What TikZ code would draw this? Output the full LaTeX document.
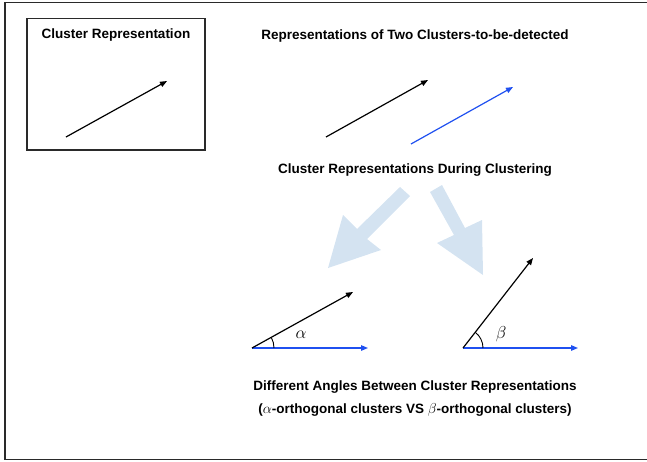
\documentclass[tikz,border=0pt]{standalone}
\usepackage{fontspec}
\setmainfont{Liberation Sans}
\usetikzlibrary{arrows.meta}
\definecolor{vblue}{HTML}{1F50F0}
\definecolor{pale}{HTML}{D4E3F1}
\definecolor{frame}{HTML}{2A2A2A}
\tikzset{
  lbl/.style={font=\bfseries\fontsize{13.5}{16}\selectfont, inner sep=0pt, anchor=center},
  vec/.style={line width=1.2pt, -{Triangle[length=7pt,width=5.5pt]}},
  bvec/.style={vec, draw=vblue},
  bigarrow/.style={fill=pale, draw=none},
  anglearc/.style={line width=0.9pt},
  greek/.style={font=\fontsize{18}{18}\selectfont, inner sep=0pt}
}
\begin{document}
\begin{tikzpicture}[x=1pt,y=-1pt]
\useasboundingbox (0,0) rectangle (647,461);
% outer frame (open on the right)
\draw[frame, line width=1.8pt] (660,2.5) -- (5,2.5) -- (5,459.5) -- (660,459.5);
% inner box
\draw[frame, line width=1.5pt] (27,18.5) rectangle (205,150);
\node[lbl] (t1) at (116,35) {Cluster Representation};
\coordinate (a0) at (66,137);
\coordinate (a1) at (167,81);
\draw[vec] (a0) -- (a1);

\node[lbl] (t2) at (415,36) {Representations of Two Clusters-to-be-detected};
\coordinate (b0) at (326,137);
\coordinate (b1) at (428,80);
\draw[vec] (b0) -- (b1);
\coordinate (c0) at (411,144);
\coordinate (c1) at (513,87);
\draw[bvec] (c0) -- (c1);

\node[lbl] (t3) at (415,170) {Cluster Representations During Clustering};

% big pale arrows
\fill[bigarrow] (400,187) -- (410,196) -- (367,239) -- (381,250) -- (328,268) -- (343,215) -- (357,229) -- cycle;
\fill[bigarrow] (430,192) -- (442,185) -- (465,228) -- (482,220) -- (483,275) -- (437,243) -- (454,235) -- cycle;

% alpha
\coordinate (p0) at (252,348);
\coordinate (p1) at (368,348);
\coordinate (p2) at (353,292);
\draw[bvec] (p0) -- (p1);
\draw[vec] (p0) -- (p2);
\draw[anglearc] ([shift={(22,0)}]p0) arc[start angle=0, end angle=-28.5, radius=22];
\node[greek] (al) at (301,335) {$\alpha$};

% beta
\coordinate (q0) at (463,348);
\coordinate (q1) at (578,348);
\coordinate (q2) at (533,258);
\draw[bvec] (q0) -- (q1);
\draw[vec] (q0) -- (q2);
\draw[anglearc] ([shift={(20,0)}]q0) arc[start angle=0, end angle=-52, radius=20];
\node[greek] (be) at (501,334) {$\beta$};

\node[lbl] (t4) at (415,387) {Different Angles Between Cluster Representations};
\node[lbl] (t5) at (415,410) {($\alpha$-orthogonal clusters VS $\beta$-orthogonal clusters)};
\end{tikzpicture}
\end{document}
